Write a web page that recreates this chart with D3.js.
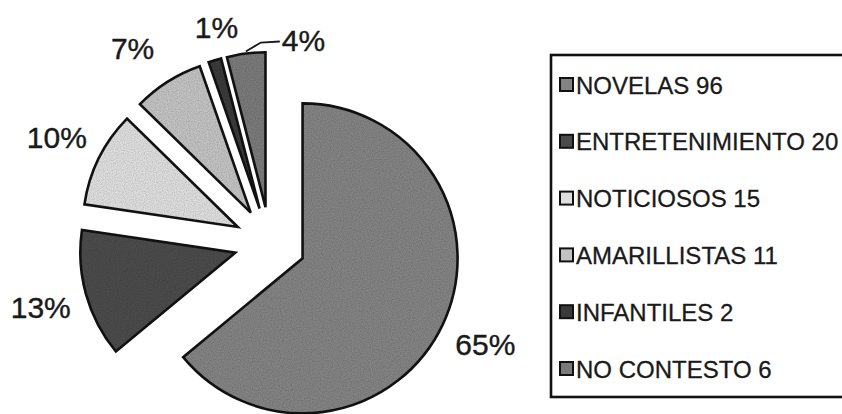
<!DOCTYPE html>
<html>
<head>
<meta charset="utf-8">
<script src="https://cdn.jsdelivr.net/npm/d3@7"></script>
<style>
  html, body { margin: 0; padding: 0; background: #ffffff; }
  svg { display: block; font-family: "Liberation Sans", Arial, sans-serif; }
</style>
</head>
<body>
<svg id="chart" width="842" height="414"></svg>
<script>
// Programas de televisión preferidos
const categories = ["NOVELAS", "ENTRETENIMIENTO", "NOTICIOSOS", "AMARILLISTAS", "INFANTILES", "NO CONTESTO"];
const values = [96, 20, 15, 11, 2, 6];
const percentLabels = ["65%", "13%", "10%", "7%", "1%", "4%"];
const fills = ["#838383", "#4b4b4b", "#dedede", "#c2c2c2", "#3a3a3a", "#7a7a7a"];

const svg = d3.select("#chart");

// Fine print-like grain on the filled areas
const defs = svg.append("defs");
const grain = defs.append("filter").attr("id", "grain")
  .attr("x", 0).attr("y", 0).attr("width", 1).attr("height", 1);
grain.append("feTurbulence")
  .attr("type", "fractalNoise").attr("baseFrequency", 0.9)
  .attr("numOctaves", 1).attr("seed", 3).attr("result", "noise");
grain.append("feColorMatrix")
  .attr("in", "noise").attr("type", "matrix")
  .attr("values", "0 0 0 0 0  0 0 0 0 0  0 0 0 0 0  0 0 0 0.55 -0.18")
  .attr("result", "dots");
grain.append("feComposite")
  .attr("in", "dots").attr("in2", "SourceGraphic").attr("operator", "atop");

// Pie geometry
const cx = 270, cy = 243;
const radius = 155;
const explode = 36;

const pie = d3.pie().sort(null).value(d => d.value).startAngle(0).endAngle(2 * Math.PI);
const arc = d3.arc().innerRadius(0).outerRadius(radius);

const data = categories.map((c, i) => ({ name: c, value: values[i], label: percentLabels[i], fill: fills[i] }));
const arcs = pie(data);

const mid = d => (d.startAngle + d.endAngle) / 2;
const unit = a => [Math.sin(a), -Math.cos(a)];

const g = svg.append("g").attr("transform", `translate(${cx},${cy})`);

const slices = g.selectAll("g.slice")
  .data(arcs)
  .join("g")
  .attr("class", "slice")
  .attr("transform", d => {
    const [ux, uy] = unit(mid(d));
    return `translate(${ux * explode},${uy * explode})`;
  });

slices.append("path")
  .attr("d", arc)
  .attr("fill", d => d.data.fill)
  .attr("filter", "url(#grain)");

slices.append("path")
  .attr("d", arc)
  .attr("fill", "none")
  .attr("stroke", "#111")
  .attr("stroke-width", 2.6)
  .attr("stroke-linejoin", "miter");

// Percentage labels around the pie
const labelDist = 238;
const labelG = g.append("g")
  .attr("font-size", 30)
  .attr("fill", "#1a1a1a")
  .attr("stroke", "#1a1a1a")
  .attr("stroke-width", 0.4);

arcs.forEach((d, i) => {
  const a = mid(d);
  const [ux, uy] = unit(a);
  if (i === arcs.length - 1) {
    // last slice: label set off to the right with a leader line
    const r0 = explode + radius + 2;
    const p0 = [ux * r0, uy * r0];
    const p1 = [p0[0] + 15, p0[1] - 9];
    const p2 = [p1[0] + 19, p1[1] - 1];
    labelG.append("polyline")
      .attr("points", [p0, p1, p2].map(p => p.join(",")).join(" "))
      .attr("fill", "none")
      .attr("stroke-width", 1.8);
    labelG.append("text")
      .attr("x", p2[0] + 2)
      .attr("y", p2[1] + 9)
      .attr("text-anchor", "start")
      .text(d.data.label);
  } else {
    const small = d.value / d3.sum(values) < 0.03;
    const dist = small ? 222 : labelDist;
    const a2 = small ? a + 0.05 : (d.value / d3.sum(values) < 0.09 ? a - 0.05 : a);
    const [vx, vy] = unit(a2);
    labelG.append("text")
      .attr("x", vx * dist)
      .attr("y", vy * dist)
      .attr("text-anchor", "middle")
      .attr("dominant-baseline", "central")
      .text(d.data.label);
  }
});

// Legend
const legend = svg.append("g").attr("transform", "translate(551,55)");
legend.append("rect")
  .attr("x", 0).attr("y", 0)
  .attr("width", 320).attr("height", 342)
  .attr("fill", "#ffffff")
  .attr("stroke", "#111")
  .attr("stroke-width", 2.6);

const rowY = d3.scalePoint().domain(categories).range([30, 314]);

const items = legend.selectAll("g.item")
  .data(data)
  .join("g")
  .attr("class", "item")
  .attr("transform", d => `translate(0,${rowY(d.name)})`);

items.append("rect")
  .attr("x", 9).attr("y", -7)
  .attr("width", 13).attr("height", 13)
  .attr("fill", d => d.fill)
  .attr("stroke", "#111")
  .attr("stroke-width", 2);

items.append("text")
  .attr("x", 25)
  .attr("y", 0)
  .attr("dominant-baseline", "central")
  .attr("font-size", 24)
  .attr("fill", "#1a1a1a")
  .attr("stroke", "#1a1a1a")
  .attr("stroke-width", 0.3)
  .text((d, i) => `${d.name} ${values[i]}`);
</script>
</body>
</html>
